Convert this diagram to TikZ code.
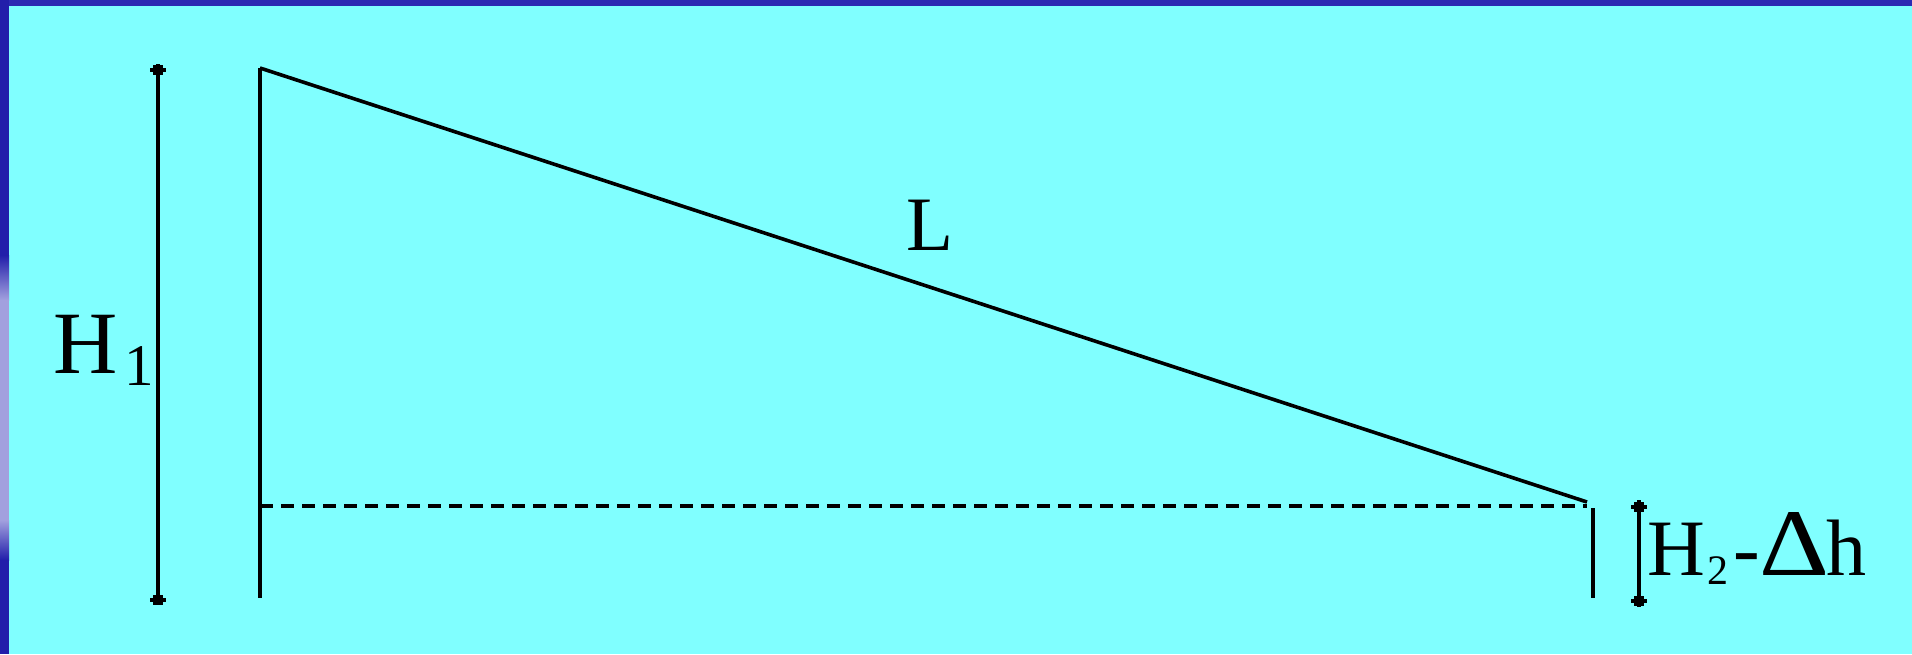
\documentclass[tikz,border=0pt]{standalone}
\usepackage{fontspec}
\setmainfont{Liberation Serif}
\usetikzlibrary{calc}
\definecolor{bgcyan}{RGB}{128,255,255}
\definecolor{frameblue}{RGB}{44,42,178}
\definecolor{framedark}{RGB}{34,30,170}
\definecolor{framelight}{RGB}{162,160,222}
\tikzset{
  solidline/.style={line width=4pt},
  slantline/.style={line width=3.6pt},
  dashline/.style={line width=3.4pt, dash pattern=on 13pt off 8pt},
  dimline/.style={line width=4pt},
  endmark/.pic={\fill (-8,-2) rectangle (8,2); \fill (-5,-5) rectangle (4.5,5);},
  lbl/.style={inner sep=0pt, outer sep=0pt, anchor=base west, text=black}
}
\begin{document}
\begin{tikzpicture}[x=1pt,y=-1pt]
\useasboundingbox (0,0) rectangle (1912,654);
% background and frame
\fill[bgcyan] (0,0) rectangle (1912,654);
\fill[frameblue] (0,0) rectangle (1912,6);
\fill[framedark] (0,0) rectangle (9,654);
\shade[top color=framedark, bottom color=framelight] (0,255) rectangle (9,300);
\fill[framelight] (0,300) rectangle (9,520);
\shade[top color=framelight, bottom color=framedark] (0,520) rectangle (9,560);
% key points
\coordinate (topL) at (260,68);
\coordinate (botL) at (260,598);
\coordinate (slantEnd) at (1587,502);
\coordinate (dashL) at (260,506);
\coordinate (dashR) at (1587,506);
\coordinate (rTop) at (1593,508);
\coordinate (rBot) at (1593,598);
\coordinate (d1Top) at (158,64);
\coordinate (d1Bot) at (158,604);
\coordinate (d2Top) at (1639,500);
\coordinate (d2Bot) at (1639,607);
% main lines
\draw[solidline] (topL) -- (botL);
\draw[slantline] (topL) -- (slantEnd);
\draw[dashline] (dashL) -- (dashR);
\draw[solidline] (rTop) -- (rBot);
% dimension lines
\draw[dimline] (d1Top) -- (d1Bot);
\pic at (158,70) {endmark};
\pic at (158,600) {endmark};
\draw[dimline] (d2Top) -- (d2Bot);
\pic at (1639,507) {endmark};
\pic at (1639,601) {endmark};
% labels
\node[lbl] (H1) at (53.5,373) {\fontsize{89}{89}\selectfont H\kern7pt\raisebox{-12pt}{\fontsize{59}{59}\selectfont 1}};
\node[lbl] (Llab) at (906,250) {\fontsize{77}{77}\selectfont L};
\node[lbl] (H2) at (1647.5,575) {\fontsize{80}{80}\selectfont H\kern2pt\raisebox{-9pt}{\fontsize{42}{42}\selectfont 2}\kern5pt-\resizebox{70pt}{63pt}{Δ}\kern-3pt h};
\end{tikzpicture}
\end{document}
